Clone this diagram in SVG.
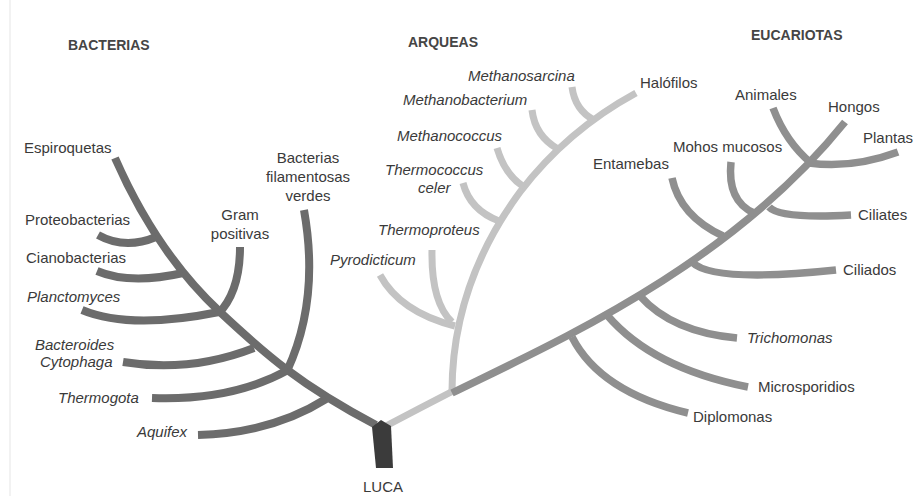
<svg xmlns="http://www.w3.org/2000/svg" width="915" height="496" viewBox="0 0 915 496">
<style>
.b{fill:none;stroke:#6c6c6c;stroke-width:8;stroke-linecap:butt}
.a{fill:none;stroke:#c3c3c3;stroke-width:7;stroke-linecap:butt}
.e{fill:none;stroke:#8f8f8f;stroke-width:7.5;stroke-linecap:butt}
text{font-family:"Liberation Sans",Arial,sans-serif;font-size:15px;fill:#3a3a3a}
.i{font-style:italic}
.h{font-weight:bold;font-size:14px;fill:#454545}
.m{text-anchor:middle}
</style>
<rect width="915" height="496" fill="#fff"/>
<line x1="10" y1="0" x2="10" y2="496" stroke="#f2f2f2" stroke-width="2"/>
<g id="connectors">
 <g id="bacteria-branches">
  <path class="b" d="M115,158 C140,215 175,270 220,312 S300,385 376,425"/>
  <path class="b" d="M98,235 Q125,250 156,237"/>
  <path class="b" d="M97,271 Q130,285 183,273"/>
  <path class="b" d="M82,310 Q130,330 219,312"/>
  <path class="b" d="M240,247 Q240,292 218,314"/>
  <path class="b" d="M304,210 Q320,300 287,371"/>
  <path class="b" d="M123,362 Q190,373 254,348"/>
  <path class="b" d="M152,398 Q232,401 288,370"/>
  <path class="b" d="M198,435 Q272,433 326,399"/>
 </g>
 <g id="archaea-branches">
  <path class="a" d="M384,427 Q420,408 455,390"/>
  <path class="a" d="M452,392 C452,330 470,260 520,192 C552,150 590,118 636,93"/>
  <path class="a" d="M380,275 Q400,312 455,326"/>
  <path class="a" d="M432,250 Q431,302 452,322"/>
  <path class="a" d="M463,183 Q470,210 499,221"/>
  <path class="a" d="M497,148 Q505,175 524,187"/>
  <path class="a" d="M532,110 Q535,136 558,149"/>
  <path class="a" d="M572,87 Q575,110 594,120"/>
 </g>
 <g id="eukarya-branches">
  <path class="e" d="M452,393 C560,340 730,265 845,122"/>
  <path class="e" d="M572,337 Q600,392 688,413"/>
  <path class="e" d="M607,315 Q652,368 748,387"/>
  <path class="e" d="M640,296 Q672,332 737,338"/>
  <path class="e" d="M692,262 Q712,283 836,270"/>
  <path class="e" d="M672,178 Q680,216 723,236"/>
  <path class="e" d="M731,162 Q727,201 754,213"/>
  <path class="e" d="M769,207 Q780,219 851,215"/>
  <path class="e" d="M773,108 Q786,142 811,163"/>
  <path class="e" d="M809,163 Q852,169 898,152"/>
 </g>
</g>
<g id="luca"><polygon points="372,427 381,420 391,426 393,468 376,468" fill="#3b3b3b"/><text class="m" x="383" y="492" font-size="14.5">LUCA</text></g>
<g id="bacterias"><text class="h" x="68" y="50">BACTERIAS</text></g>
<g id="arqueas"><text class="h" x="408" y="47">ARQUEAS</text></g>
<g id="eucariotas"><text class="h" x="751" y="40">EUCARIOTAS</text></g>
<g id="espiroquetas"><text x="24" y="153">Espiroquetas</text></g>
<g id="proteobacterias"><text x="25" y="225">Proteobacterias</text></g>
<g id="cianobacterias"><text x="26" y="263">Cianobacterias</text></g>
<g id="planctomyces"><text class="i" x="27" y="302">Planctomyces</text></g>
<g id="gram"><text class="m" x="240" y="220">Gram</text><text class="m" x="240" y="239">positivas</text></g>
<g id="filamentosas"><text class="m" x="308" y="163">Bacterias</text><text class="m" x="308" y="182">filamentosas</text><text class="m" x="308" y="201">verdes</text></g>
<g id="bacteroides"><text class="i" x="35" y="350">Bacteroides</text><text class="i" x="40" y="367">Cytophaga</text></g>
<g id="thermogota"><text class="i" x="58" y="403">Thermogota</text></g>
<g id="aquifex"><text class="i" x="137" y="437">Aquifex</text></g>
<g id="pyrodicticum"><text class="i" x="330" y="265">Pyrodicticum</text></g>
<g id="thermoproteus"><text class="i" x="378" y="235">Thermoproteus</text></g>
<g id="thermococcus"><text class="i" x="385" y="175">Thermococcus</text><text class="i" x="418" y="193">celer</text></g>
<g id="methanococcus"><text class="i" x="397" y="141">Methanococcus</text></g>
<g id="methanobacterium"><text class="i" x="403" y="105">Methanobacterium</text></g>
<g id="methanosarcina"><text class="i" x="468" y="81">Methanosarcina</text></g>
<g id="halofilos"><text x="640" y="88">Halófilos</text></g>
<g id="animales"><text x="735" y="100">Animales</text></g>
<g id="hongos"><text x="828" y="112">Hongos</text></g>
<g id="plantas"><text x="863" y="143">Plantas</text></g>
<g id="mohos"><text x="673" y="152">Mohos mucosos</text></g>
<g id="entamebas"><text x="593" y="169">Entamebas</text></g>
<g id="ciliates"><text x="858" y="220">Ciliates</text></g>
<g id="ciliados"><text x="843" y="275">Ciliados</text></g>
<g id="trichomonas"><text class="i" x="747" y="343">Trichomonas</text></g>
<g id="microsporidios"><text x="758" y="392">Microsporidios</text></g>
<g id="diplomonas"><text x="693" y="422">Diplomonas</text></g>
</svg>
